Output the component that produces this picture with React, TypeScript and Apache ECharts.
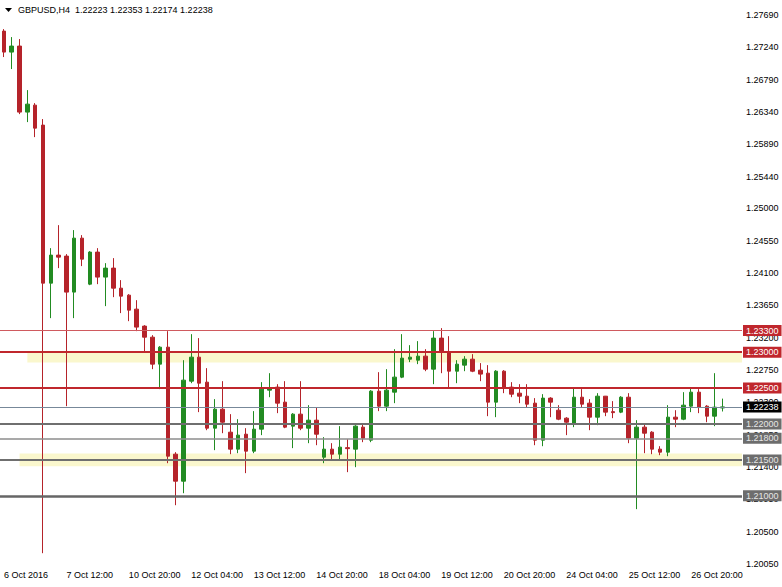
import React, { useEffect, useRef } from 'react';
import * as echarts from 'echarts';

// ---- time axis ----
const tradingDays = ['6 Oct', '7 Oct', '10 Oct', '11 Oct', '12 Oct', '13 Oct', '14 Oct', '17 Oct', '18 Oct', '19 Oct', '20 Oct', '21 Oct', '24 Oct', '25 Oct', '26 Oct', '27 Oct'];
const barHours = ['00:00', '04:00', '08:00', '12:00', '16:00', '20:00'];
const firstLabel = '6 Oct 2016';

// ---- OHLC (GBPUSD H4) ----
const opens = [
  1.27467, 1.27175, 1.27259, 1.26340, 1.26437, 1.26159, 1.23960, 1.24350, 1.24336, 1.23835,
  1.24586, 1.23946, 1.24392, 1.24044, 1.24169, 1.23890, 1.23793, 1.23598, 1.23362, 1.23208,
  1.22833, 1.23069, 1.21580, 1.21204, 1.22596, 1.22930, 1.22582, 1.21942, 1.22206, 1.21886,
  1.21650, 1.21858, 1.21622, 1.21928, 1.22471, 1.22513, 1.22304, 1.21970, 1.22137, 1.21942,
  1.22053, 1.21538, 1.21650, 1.21580, 1.21671, 1.21650, 1.21956, 1.21775, 1.22457, 1.22248,
  1.22443, 1.22652, 1.22902, 1.22888, 1.22944, 1.22763, 1.23195, 1.23000, 1.22735, 1.22819,
  1.22902, 1.22749, 1.22707, 1.22304, 1.22735, 1.22513, 1.22429, 1.22387, 1.22290, 1.21775,
  1.22360, 1.22192, 1.22081, 1.22012, 1.22373, 1.22290, 1.22095, 1.22387, 1.22172, 1.22165,
  1.22373, 1.21803, 1.21956, 1.21886, 1.21650, 1.21608, 1.22095, 1.22067, 1.22248, 1.22443,
  1.22248, 1.22109, 1.22223,
];
const closes = [
  1.27175, 1.27259, 1.26340, 1.26451, 1.26117, 1.23960, 1.24350, 1.24322, 1.23835, 1.24586,
  1.24294, 1.24392, 1.24044, 1.24169, 1.23890, 1.23779, 1.23584, 1.23348, 1.23208, 1.22833,
  1.23069, 1.21552, 1.21204, 1.22610, 1.22930, 1.22568, 1.21942, 1.22206, 1.22025, 1.21650,
  1.21845, 1.21622, 1.21928, 1.22485, 1.22499, 1.22290, 1.21956, 1.22137, 1.21942, 1.22053,
  1.21858, 1.21650, 1.21580, 1.21678, 1.21657, 1.21970, 1.21803, 1.22457, 1.22248, 1.22471,
  1.22652, 1.22916, 1.22930, 1.22944, 1.22763, 1.23195, 1.23000, 1.22735, 1.22833, 1.22902,
  1.22735, 1.22694, 1.22304, 1.22735, 1.22513, 1.22415, 1.22387, 1.22276, 1.21775, 1.22360,
  1.22304, 1.22067, 1.22025, 1.22373, 1.22276, 1.22095, 1.22387, 1.22165, 1.22158, 1.22373,
  1.21803, 1.21956, 1.21872, 1.21650, 1.21608, 1.22095, 1.22067, 1.22262, 1.22443, 1.22234,
  1.22109, 1.22234, 1.22238,
];
const lows = [
  1.27106, 1.26939, 1.26312, 1.26201, 1.25992, 1.20202, 1.23473, 1.24169, 1.22248, 1.23473,
  1.24197, 1.23932, 1.23946, 1.23640, 1.23765, 1.23543, 1.23431, 1.23292, 1.23014, 1.22763,
  1.22485, 1.21455, 1.20870, 1.21037, 1.22568, 1.22165, 1.21914, 1.21636, 1.21872, 1.21580,
  1.21594, 1.21316, 1.21594, 1.21845, 1.22373, 1.22151, 1.21942, 1.21664, 1.21914, 1.21733,
  1.21705, 1.21455, 1.21510, 1.21510, 1.21330, 1.21399, 1.21747, 1.21747, 1.22179, 1.22179,
  1.22290, 1.22638, 1.22861, 1.22833, 1.22735, 1.22554, 1.22707, 1.22513, 1.22568, 1.22735,
  1.22721, 1.22596, 1.22109, 1.22095, 1.22429, 1.22373, 1.22290, 1.22234, 1.21705, 1.21691,
  1.22095, 1.22053, 1.21845, 1.21956, 1.22234, 1.21914, 1.21984, 1.22109, 1.22081, 1.22151,
  1.21733, 1.20815, 1.21594, 1.21580, 1.21566, 1.21552, 1.21956, 1.22053, 1.22165, 1.22151,
  1.22025, 1.21970, 1.22174,
];
const highs = [
  1.27495, 1.27384, 1.27356, 1.26646, 1.26465, 1.26243, 1.24447, 1.24767, 1.24364, 1.24698,
  1.24628, 1.24405, 1.24447, 1.24238, 1.24308, 1.24002, 1.23807, 1.23723, 1.23375, 1.23236,
  1.23083, 1.23292, 1.21608, 1.22888, 1.23250, 1.23195, 1.22777, 1.22346, 1.22596, 1.22137,
  1.22067, 1.21942, 1.22179, 1.22582, 1.22707, 1.22554, 1.22596, 1.22151, 1.22596, 1.22262,
  1.22234, 1.21817, 1.21733, 1.21970, 1.21789, 1.21984, 1.21998, 1.22471, 1.22721, 1.22763,
  1.23041, 1.23250, 1.23097, 1.23153, 1.23041, 1.23292, 1.23334, 1.23222, 1.22888, 1.22944,
  1.22972, 1.22847, 1.22819, 1.22749, 1.22749, 1.22582, 1.22554, 1.22554, 1.22360, 1.22415,
  1.22373, 1.22262, 1.22095, 1.22499, 1.22485, 1.22346, 1.22429, 1.22390, 1.22318, 1.22387,
  1.22429, 1.22053, 1.21998, 1.21900, 1.21691, 1.22262, 1.22192, 1.22443, 1.22499, 1.22485,
  1.22262, 1.22707, 1.22353,
];

// ---- price scale ticks ----
const priceTicks = [1.2769, 1.2724, 1.2679, 1.2634, 1.2589, 1.2544, 1.25, 1.2455, 1.241, 1.2365, 1.232, 1.2275, 1.223, 1.2185, 1.214, 1.2095, 1.205, 1.2005];

// ---- horizontal levels ----
const levelValues = [1.233, 1.23, 1.225, 1.22238, 1.22, 1.218, 1.215, 1.21];
const levelKinds = ['redThin', 'red', 'red', 'current', 'gray', 'grayThin', 'gray', 'grayDark'];

// ---- highlight zones ----
const zoneTops = [1.2300, 1.2159];
const zoneBottoms = [1.22855, 1.21413];
const zoneStartBars = [3, 2];

const RED = '#b5232a';
const GREEN = '#228b22';

const levelStyles: Record<string, any> = {
  redThin: { line: { color: '#cf5a5f', width: 1 }, box: '#c0272d', text: '#ffffff' },
  red: { line: { color: '#c0272d', width: 2 }, box: '#c0272d', text: '#ffffff' },
  current: { line: { color: '#778899', width: 1 }, box: '#000000', text: '#ffffff' },
  gray: { line: { color: '#6f6f6f', width: 2 }, box: '#6d6d6d', text: '#e6e6e6' },
  grayThin: { line: { color: '#8c8c8c', width: 1.5 }, box: '#6d6d6d', text: '#e6e6e6' },
  grayDark: { line: { color: '#666666', width: 2.5 }, box: '#6d6d6d', text: '#e6e6e6' },
};

export default function App() {
  const ref = useRef<HTMLDivElement>(null);

  useEffect(() => {
    if (!ref.current) return;
    const chart = echarts.init(ref.current, null, { renderer: 'svg' });

    const categories: string[] = [];
    tradingDays.forEach((d, di) =>
      barHours.forEach((h, hi) => {
        if (di === 0 && hi === 0) return;
        if (di === tradingDays.length - 1 && hi > 3) return;
        categories.push(d + ' ' + h);
      })
    );
    categories.push(' ', '  ');

    const candles = opens.map((o, i) => [o, closes[i], lows[i], highs[i]]);

    const markLineData = levelValues.map((v, i) => {
      const st = levelStyles[levelKinds[i]];
      return {
        name: 'L' + i,
        yAxis: v,
        lineStyle: { ...st.line, type: 'solid' },
        label: {
          show: true,
          position: 'end',
          distance: 1,
          formatter: () => v.toFixed(5),
          color: st.text,
          backgroundColor: st.box,
          padding: [1, 3, 0, 3],
          fontSize: 9,
          lineHeight: 10,
          fontFamily: 'Liberation Sans',
        },
      };
    });

    const markAreaData = zoneTops.map((t, i) => [
      { xAxis: zoneStartBars[i], yAxis: t },
      { yAxis: zoneBottoms[i] },
    ]);

    chart.setOption({
      animation: false,
      backgroundColor: '#ffffff',
      textStyle: { fontFamily: 'Liberation Sans' },
      grid: { left: 0, right: 40, top: 0, bottom: 20 },
      xAxis: {
        type: 'category',
        data: categories,
        boundaryGap: true,
        axisLine: { show: false },
        axisTick: { show: false },
        splitLine: { show: false },
        axisLabel: {
          interval: 7,
          align: 'left',
          margin: 3,
          fontSize: 9,
          color: '#000',
          formatter: (val: string, idx: number) => (idx === 0 ? firstLabel : val),
        },
      },
      yAxis: {
        type: 'value',
        position: 'right',
        min: 1.2001,
        max: 1.279,
        scale: true,
        splitLine: { show: false },
        axisLine: { show: false },
        axisTick: { show: false },
        axisLabel: {
          customValues: priceTicks,
          margin: 4,
          fontSize: 9,
          color: '#000',
          formatter: (v: number) => v.toFixed(5),
        },
      },
      graphic: [
        { type: 'polygon', shape: { points: [[5, 8], [12, 8], [8.5, 12]] }, style: { fill: '#000' } },
        {
          type: 'text',
          x: 18,
          y: 10,
          style: {
            text: 'GBPUSD,H4  1.22223 1.22353 1.22174 1.22238',
            fontSize: 9,
            fontFamily: 'Liberation Sans',
            fill: '#000',
            verticalAlign: 'middle',
          },
        },
      ],
      series: [
        {
          type: 'line',
          data: [],
          z: 1,
          silent: true,
          markArea: {
            silent: true,
            itemStyle: { color: '#faf7cd' },
            data: markAreaData,
          },
        },
        {
          type: 'candlestick',
          z: 3,
          data: candles,
          barWidth: 4,
          itemStyle: {
            color: GREEN,
            color0: RED,
            borderColor: GREEN,
            borderColor0: RED,
            borderWidth: 1,
          },
          markLine: {
            silent: true,
            symbol: ['none', 'none'],
            precision: 5,
            labelLayout: { hideOverlap: false },
            data: markLineData,
          },
        },
      ],
    });

    return () => chart.dispose();
  }, []);

  return (
    <div
      ref={ref}
      style={{ position: 'fixed', left: 0, top: 0, width: 782, height: 587 }}
    />
  );
}
